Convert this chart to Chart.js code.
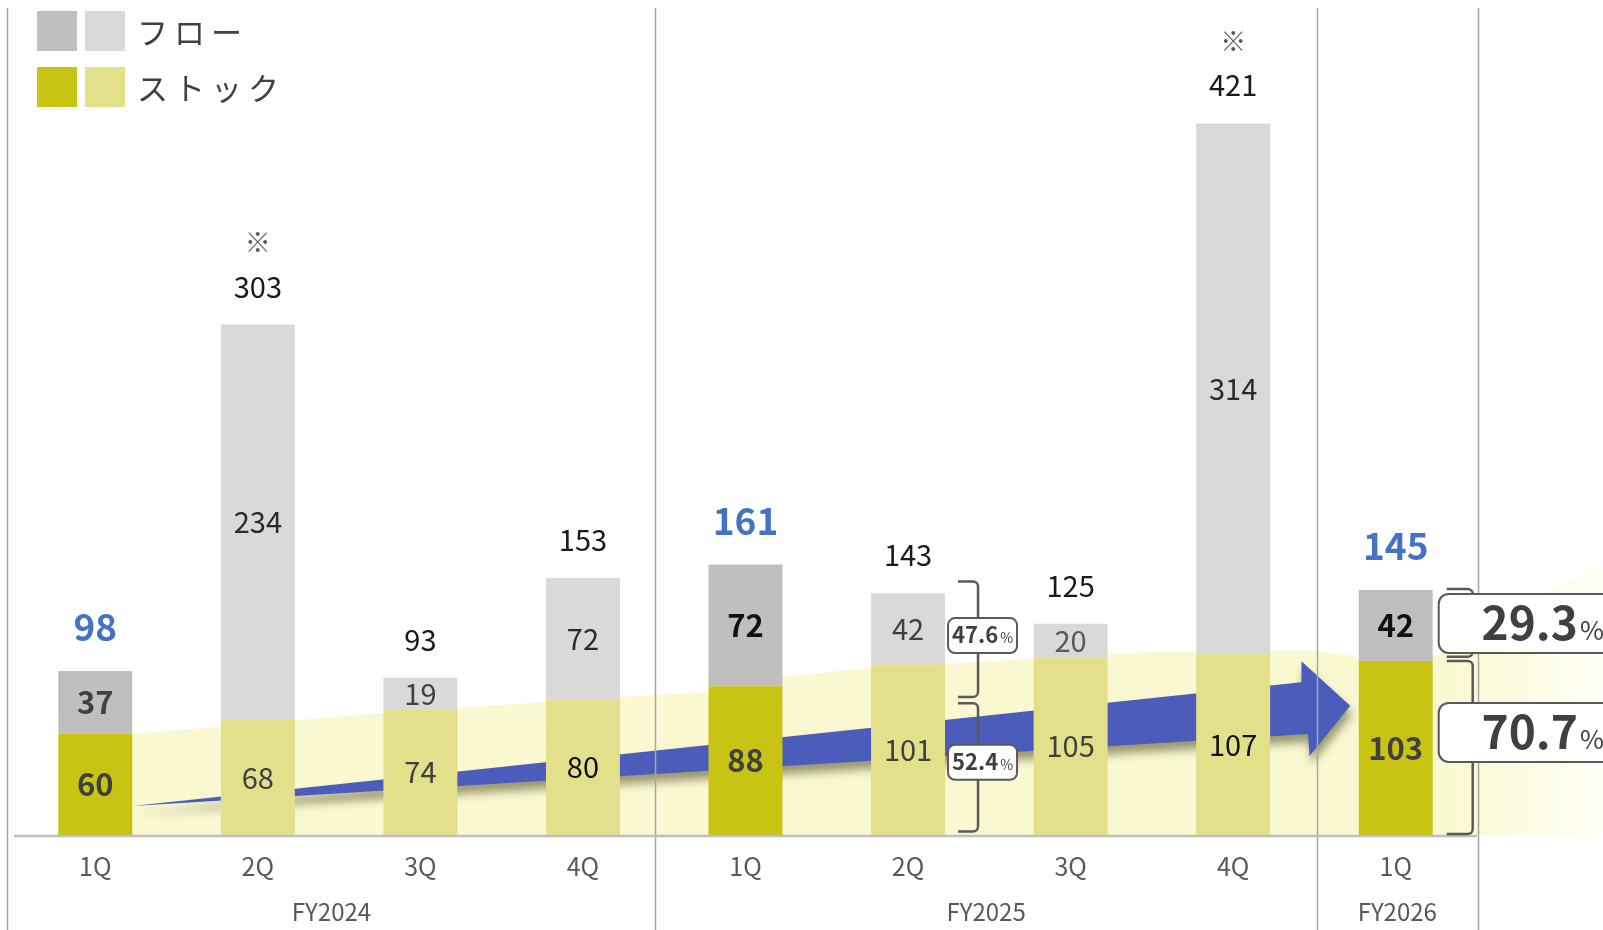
<!DOCTYPE html>
<html lang="ja">
<head>
<meta charset="utf-8">
<title>フロー / ストック</title>
<script src="https://cdn.jsdelivr.net/npm/chart.js@4.4.1/dist/chart.umd.min.js"></script>
<style>
  html, body { margin: 0; padding: 0; background: #fff; }
  #wrap { position: relative; width: 1603px; height: 930px; }
</style>
</head>
<body>
<div id="wrap"><canvas id="chart"></canvas></div>
<script>
// --- data ---
const quarters = ["1Q", "2Q", "3Q", "4Q", "1Q", "2Q", "3Q", "4Q", "1Q"];
const fiscalYears = ["FY2024", "FY2025", "FY2026"];
const stockValues = [60, 68, 74, 80, 88, 101, 105, 107, 103];
const flowValues = [37, 234, 19, 72, 72, 42, 20, 314, 42];
const totalValues = [98, 303, 93, 153, 161, 143, 125, 421, 145];
const highlighted = [0, 4, 8];
const noteMarked = [1, 7];
const shareIndex = [5, 8];
const flowShare = ["47.6", "29.3"];
const stockShare = ["52.4", "70.7"];

// --- styles / decoration (category units on x, value units on y) ---
const FONT = '"Noto Sans CJK JP", "Noto Sans", sans-serif';
const C = {
  flowDark: "#BFBFBF", flowLight: "#D9D9D9",
  stockDark: "#C7C413", stockLight: "#E2E08A",
  band: "#FAF8D0", arrow: "#4B5CBB", blue: "#4472C4",
  ink: "#404040", black: "#1A1A1A", axis: "#BFBFBF", sep: "#A6A6A6"
};
const fyBounds = [-0.54, 3.446, 7.514, 8.505];
const bandTop = [[0, 59], [0.228, 59.8], [1.772, 72.2], [3.225, 81.7], [3.772, 84.7],
  [4.228, 93.5], [4.702, 98.3], [5.231, 101.2], [5.766, 104.2], [6.486, 108.3],
  [7.231, 108.9], [7.514, 108.9], [7.772, 105.4], [8.228, 105.4], [8.517, 118.4],
  [8.966, 145], [9.3, 163]];
const arrowShape = [[0.228, 17.2], [7.42, 90.4], [7.42, 102.8], [7.72, 76.4],
  [7.47, 46.8], [7.46, 59.8]];
const shareMarks = [
  { flowSpan: [150, 81.7], stockSpan: [78, 2], flowBox: 118, stockBox: 43,
    stub: 13, bend: 33, boxLeft: 3, boxW: 69, boxH: 35, big: 22, small: 14, r: 7 },
  { flowSpan: [145.6, 105.4], stockSpan: [103, 0.6], flowBox: 125.2, stockBox: 60.7,
    stub: 14, bend: 40, boxLeft: 6, boxW: 208, boxH: 59, big: 46, small: 26, r: 10 }
];
const stockInk = [C.ink, C.ink, C.ink, "#111", C.ink, C.ink, C.ink, "#111", C.ink];
const flowInk = [C.ink, "#2A2A2A", C.ink, "#2A2A2A", "#111", C.ink, "#595959", "#2A2A2A", "#111"];

const isHi = (i) => highlighted.includes(i);

function pt(chart, p) {
  return [chart.scales.x.getPixelForValue(p[0]), chart.scales.y.getPixelForValue(p[1])];
}

function roundBox(ctx, x, y, w, h, r) {
  ctx.beginPath();
  ctx.moveTo(x + r, y);
  ctx.arcTo(x + w, y, x + w, y + h, r);
  ctx.arcTo(x + w, y + h, x, y + h, r);
  ctx.arcTo(x, y + h, x, y, r);
  ctx.arcTo(x, y, x + w, y, r);
  ctx.closePath();
}

function bracket(ctx, x0, x1, yTop, yBot) {
  const r = 5;
  ctx.beginPath();
  ctx.moveTo(x0, yTop);
  ctx.arcTo(x1, yTop, x1, yTop + r, r);
  ctx.arcTo(x1, yBot, x0, yBot, r);
  ctx.lineTo(x0, yBot);
  ctx.stroke();
}

const decor = {
  id: "decor",
  beforeDatasetsDraw(chart) {
    const { ctx, scales: { x, y } } = chart;
    const y0 = y.getPixelForValue(0);
    ctx.save();
    // pale band behind the bars
    const g = ctx.createLinearGradient(x.getPixelForValue(8.3), 0, chart.width, 0);
    g.addColorStop(0, C.band);
    g.addColorStop(1, "#FFFFF7");
    ctx.beginPath();
    ctx.moveTo(x.getPixelForValue(bandTop[0][0]), y0);
    bandTop.forEach((p) => ctx.lineTo(...pt(chart, p)));
    ctx.lineTo(x.getPixelForValue(bandTop[bandTop.length - 1][0]), y0);
    ctx.closePath();
    ctx.fillStyle = g;
    ctx.fill();
    // growth arrow
    ctx.beginPath();
    arrowShape.forEach((p, k) => (k ? ctx.lineTo(...pt(chart, p)) : ctx.moveTo(...pt(chart, p))));
    ctx.closePath();
    ctx.shadowColor = "rgba(70,70,30,0.55)";
    ctx.shadowBlur = 10;
    ctx.shadowOffsetX = 2;
    ctx.shadowOffsetY = 8;
    ctx.fillStyle = C.arrow;
    ctx.fill();
    ctx.restore();
    // fiscal year separators
    ctx.save();
    ctx.strokeStyle = C.sep;
    ctx.lineWidth = 1.5;
    fyBounds.forEach((b) => {
      const px = Math.round(x.getPixelForValue(b)) + 0.5;
      ctx.beginPath();
      ctx.moveTo(px, 8);
      ctx.lineTo(px, chart.height);
      ctx.stroke();
    });
    ctx.restore();
  },
  afterDatasetsDraw(chart) {
    const { ctx, scales: { x, y } } = chart;
    const stockMeta = chart.getDatasetMeta(0).data;
    const flowMeta = chart.getDatasetMeta(1).data;
    ctx.save();
    // axis line
    ctx.strokeStyle = C.axis;
    ctx.lineWidth = 2.5;
    ctx.beginPath();
    ctx.moveTo(x.getPixelForValue(-0.5), y.getPixelForValue(0) + 1);
    ctx.lineTo(x.getPixelForValue(8.5), y.getPixelForValue(0) + 1);
    ctx.stroke();

    ctx.textAlign = "center";
    ctx.textBaseline = "middle";
    quarters.forEach((q, i) => {
      const s = stockMeta[i], f = flowMeta[i];
      const hi = isHi(i);
      const w = hi ? "700 " : "400 ";
      ctx.font = w + (hi ? "31px " : "29px ") + FONT;
      ctx.fillStyle = stockInk[i];
      ctx.fillText(String(stockValues[i]), s.x, (s.y + s.base) / 2);
      ctx.fillStyle = flowInk[i];
      ctx.fillText(String(flowValues[i]), f.x, (f.y + f.base) / 2);
      // totals
      if (hi) {
        ctx.font = "700 37px " + FONT;
        ctx.fillStyle = C.blue;
        ctx.fillText(String(totalValues[i]), f.x, f.y - 44);
      } else {
        ctx.font = "400 29px " + FONT;
        ctx.fillStyle = C.black;
        ctx.fillText(String(totalValues[i]), f.x, f.y - 38);
      }
      if (noteMarked.includes(i)) {
        ctx.font = "400 26px " + FONT;
        ctx.fillStyle = "#595959";
        ctx.fillText("※", f.x, f.y - 82);
      }
    });

    // share brackets and boxes
    shareIndex.forEach((idx, k) => {
      const m = shareMarks[k];
      const bar = stockMeta[idx];
      const right = bar.x + bar.width / 2;
      ctx.strokeStyle = "#595959";
      ctx.lineWidth = 2.5;
      bracket(ctx, right + m.stub, right + m.bend, y.getPixelForValue(m.flowSpan[0]), y.getPixelForValue(m.flowSpan[1]));
      bracket(ctx, right + m.stub, right + m.bend, y.getPixelForValue(m.stockSpan[0]), y.getPixelForValue(m.stockSpan[1]));
      [[flowShare[k], m.flowBox], [stockShare[k], m.stockBox]].forEach(([txt, v]) => {
        const cy = y.getPixelForValue(v);
        const bx = right + m.boxLeft;
        roundBox(ctx, bx, cy - m.boxH / 2, m.boxW, m.boxH, m.r);
        ctx.fillStyle = "#fff";
        ctx.fill();
        ctx.lineWidth = 2;
        ctx.stroke();
        ctx.font = "700 " + m.big + "px " + FONT;
        const w1 = ctx.measureText(txt).width;
        ctx.font = "400 " + m.small + "px " + FONT;
        const w2 = ctx.measureText("%").width;
        const sx = bx + m.boxW / 2 - (w1 + w2 + 2) / 2;
        ctx.textAlign = "left";
        ctx.textBaseline = "alphabetic";
        ctx.fillStyle = C.ink;
        const base = cy + m.big * 0.36;
        ctx.font = "700 " + m.big + "px " + FONT;
        ctx.fillText(txt, sx, base);
        ctx.font = "400 " + m.small + "px " + FONT;
        ctx.fillText("%", sx + w1 + 2, base);
        ctx.textAlign = "center";
        ctx.textBaseline = "middle";
      });
    });

    // fiscal year labels
    ctx.font = "400 24px " + FONT;
    ctx.fillStyle = "#595959";
    fiscalYears.forEach((fy, k) => {
      const cx = (x.getPixelForValue(fyBounds[k]) + x.getPixelForValue(fyBounds[k + 1])) / 2;
      ctx.fillText(fy, cx, 912);
    });
    ctx.restore();
  },
  afterDraw(chart) {
    // legend, two swatches per row
    const ctx = chart.ctx;
    const rows = [["フロー", C.flowDark, C.flowLight], ["ストック", C.stockDark, C.stockLight]];
    ctx.save();
    ctx.font = "400 31px " + FONT;
    ctx.letterSpacing = "6px";
    ctx.textBaseline = "middle";
    ctx.textAlign = "left";
    rows.forEach(([label, c1, c2], r) => {
      const top = 11 + r * 56;
      ctx.fillStyle = c1;
      ctx.fillRect(37, top, 40, 40);
      ctx.fillStyle = c2;
      ctx.fillRect(85, top, 40, 40);
      ctx.fillStyle = C.ink;
      ctx.fillText(label, 137, top + 21);
    });
    ctx.restore();
  }
};

new Chart(document.getElementById("chart"), {
  type: "bar",
  data: {
    labels: quarters,
    datasets: [
      {
        label: "ストック",
        data: stockValues,
        backgroundColor: quarters.map((_, i) => (isHi(i) ? C.stockDark : C.stockLight)),
        stack: "s"
      },
      {
        label: "フロー",
        data: flowValues,
        backgroundColor: quarters.map((_, i) => (isHi(i) ? C.flowDark : C.flowLight)),
        stack: "s"
      }
    ]
  },
  options: {
    responsive: true,
    maintainAspectRatio: false,
    animation: false,
    layout: { padding: { left: 14, right: 126, top: 0, bottom: 0 } },
    datasets: { bar: { categoryPercentage: 1, barPercentage: 0.455 } },
    scales: {
      x: {
        stacked: true,
        grid: { display: false, drawTicks: false },
        border: { display: false },
        ticks: { color: "#595959", font: { family: FONT, size: 25 }, padding: 16 },
        afterFit: (scale) => { scale.height = 95; }
      },
      y: { stacked: true, display: false, min: 0, max: 494 }
    },
    plugins: { legend: { display: false }, tooltip: { enabled: false } }
  },
  plugins: [decor]
});
</script>
</body>
</html>
